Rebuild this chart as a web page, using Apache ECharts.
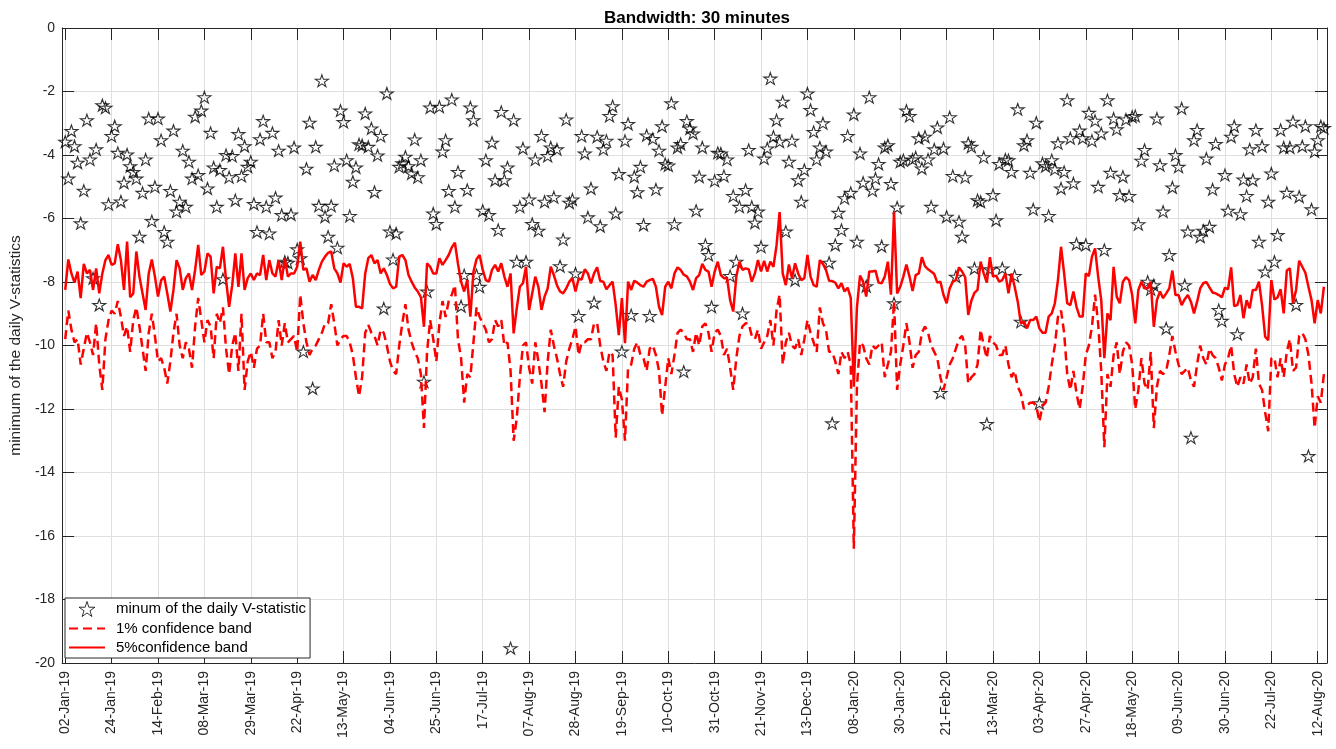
<!DOCTYPE html>
<html>
<head>
<meta charset="utf-8">
<script src="https://cdn.jsdelivr.net/npm/echarts@6/dist/echarts.min.js"></script>
<style>
  html, body { margin: 0; padding: 0; background: #fff; }
  #chart { width: 1336px; height: 749px; }
</style>
</head>
<body>
<div id="chart"></div>
<script>
// Trading-day tick labels (one every 15 observations)
const tickLabels = ['02-Jan-19','24-Jan-19','14-Feb-19','08-Mar-19','29-Mar-19','22-Apr-19','13-May-19',
  '04-Jun-19','25-Jun-19','17-Jul-19','07-Aug-19','28-Aug-19','19-Sep-19','10-Oct-19','31-Oct-19',
  '21-Nov-19','13-Dec-19','08-Jan-20','30-Jan-20','21-Feb-20','13-Mar-20','03-Apr-20','27-Apr-20',
  '18-May-20','09-Jun-20','30-Jun-20','22-Jul-20','12-Aug-20'];
const tickStep = 15;

// Daily minimum of the V-statistic
const vStatMin = [
  -3.58,-4.74,-3.24,-3.72,-4.24,-6.15,-5.12,-2.90,-4.14,-7.88,
  -3.82,-8.72,-2.43,-2.51,-5.55,-3.40,-3.09,-3.93,-5.46,-4.87,
  -3.98,-4.35,-4.53,-4.74,-6.57,-5.19,-4.14,-2.85,-6.08,-5.00,
  -2.85,-3.53,-6.42,-6.73,-5.13,-3.23,-5.78,-5.47,-3.86,-5.63,
  -4.21,-4.74,-2.79,-4.63,-2.60,-2.18,-5.05,-3.30,-4.39,-5.63,
  -4.47,-7.91,-4.00,-4.70,-4.03,-5.42,-3.34,-4.66,-3.72,-4.37,
  -4.21,-5.54,-6.42,-3.50,-2.93,-5.63,-6.47,-3.30,-5.34,-3.86,
  -5.89,-7.36,-7.39,-5.87,-3.76,-6.97,-7.25,-10.19,-4.43,-2.98,
  -11.35,-3.74,-5.60,-1.66,-5.94,-6.57,-5.60,-4.33,-6.92,-2.60,
  -2.96,-4.16,-5.92,-4.84,-4.39,-3.66,-3.69,-2.69,-3.74,-3.16,
  -5.16,-4.01,-3.40,-8.83,-2.06,-6.41,-7.29,-6.47,-4.37,-4.26,
  -4.05,-4.35,-4.58,-3.51,-4.70,-4.16,-11.14,-8.30,-2.50,-5.84,
  -6.17,-2.48,-3.89,-3.53,-5.13,-2.25,-5.63,-4.53,-8.76,-7.78,
  -5.10,-2.50,-2.90,-7.78,-8.15,-5.75,-4.16,-5.89,-3.61,-4.79,
  -6.36,-2.64,-4.79,-4.39,-19.53,-2.90,-7.36,-5.63,-3.79,-7.36,
  -5.40,-6.17,-4.14,-6.38,-3.40,-5.47,-4.03,-3.76,-5.33,-3.82,
  -7.50,-6.66,-2.88,-5.50,-5.40,-7.73,-9.07,-3.40,-3.95,-5.96,
  -5.05,-8.65,-3.42,-6.24,-3.82,-3.55,-2.77,-2.46,-5.84,-4.60,
  -10.19,-3.55,-3.02,-9.04,-4.68,-5.17,-4.37,-6.20,-3.38,-9.07,
  -3.49,-5.08,-3.86,-3.09,-4.28,-4.33,-2.37,-6.18,-3.76,-3.65,
  -10.82,-2.93,-3.16,-3.32,-5.75,-4.68,-3.76,-6.83,-7.15,-8.78,
  -4.81,-3.93,-3.95,-4.66,-4.14,-7.81,-5.29,-7.36,-5.63,-8.99,
  -5.10,-3.84,-5.63,-6.13,-5.78,-6.89,-4.11,-3.79,-1.59,-3.42,
  -2.90,-3.58,-2.32,-6.41,-4.21,-3.55,-7.94,-4.79,-5.47,-4.47,
  -2.06,-2.58,-3.27,-4.14,-3.76,-3.00,-3.89,-7.39,-12.45,-6.83,
  -5.82,-6.36,-5.36,-3.40,-5.19,-2.72,-6.73,-3.95,-4.87,-8.13,
  -2.18,-5.12,-4.74,-4.28,-6.87,-3.76,-3.69,-4.91,-8.67,-5.65,
  -4.21,-4.16,-2.60,-2.77,-4.14,-4.07,-3.47,-4.42,-3.42,-4.14,
  -5.63,-3.82,-3.13,-11.49,-3.79,-5.94,-2.81,-4.66,-7.83,-6.10,
  -6.57,-4.70,-3.63,-3.74,-7.57,-5.42,-5.47,-4.07,-12.47,-7.60,
  -5.26,-6.05,-4.28,-7.57,-4.14,-4.16,-4.53,-7.81,-2.56,-9.25,
  -3.69,-3.53,-4.56,-5.71,-2.98,-11.82,-4.26,-4.35,-5.92,-4.16,
  -4.45,-3.63,-5.05,-4.53,-2.27,-3.47,-4.89,-6.80,-3.23,-3.47,
  -6.83,-2.67,-3.55,-2.92,-5.00,-3.32,-6.99,-2.27,-4.56,-2.85,
  -3.19,-5.26,-4.68,-2.88,-5.29,-2.79,-2.77,-6.18,-4.18,-3.84,
  -7.99,-8.23,-8.10,-2.85,-4.32,-5.78,-9.46,-7.15,-5.02,-4.00,
  -4.37,-2.53,-8.10,-6.41,-12.90,-3.53,-3.21,-6.57,-6.38,-4.11,
  -6.26,-5.08,-3.65,-8.88,-9.22,-4.63,-5.75,-3.42,-3.09,-9.64,
  -5.86,-4.77,-5.29,-3.82,-4.79,-3.21,-6.73,-3.72,-7.67,-5.47,
  -4.58,-7.36,-6.52,-3.21,-3.76,-5.19,-3.76,-2.95,-8.72,-5.31,
  -3.72,-3.09,-13.48,-5.71,-3.89,-3.53,-3.09,-3.15
];

// 1% confidence band
const band1 = [
  -9.8,-8.9,-9.5,-9.9,-9.8,-10.6,-10.1,-9.6,-9.9,-10.3,
  -9.3,-10.6,-11.4,-9.8,-9.2,-8.9,-9.0,-8.6,-9.1,-9.7,
  -9.4,-10.2,-9.2,-8.8,-9.4,-10.1,-10.8,-9.6,-9.0,-9.7,
  -10.5,-10.4,-10.7,-11.2,-10.5,-9.6,-9.0,-10.0,-10.4,-9.9,
  -10.1,-10.7,-9.4,-8.5,-9.2,-9.9,-9.2,-9.4,-10.4,-9.0,
  -9.3,-8.8,-10.1,-10.9,-10.0,-9.6,-10.8,-9.0,-11.4,-10.5,
  -10.2,-10.7,-10.1,-10.0,-9.0,-9.9,-9.9,-10.4,-10.2,-9.2,
  -10.0,-9.3,-9.9,-9.8,-9.7,-10.2,-8.4,-9.3,-9.9,-10.3,
  -10.1,-10.0,-9.8,-9.6,-9.3,-9.3,-8.7,-9.3,-10.0,-9.8,
  -9.7,-9.7,-9.9,-10.3,-11.0,-11.6,-11.0,-9.6,-9.35,-9.6,
  -9.7,-10.0,-9.5,-9.6,-10.0,-10.5,-10.8,-10.9,-10.0,-9.3,
  -8.7,-9.5,-9.9,-10.2,-10.4,-10.9,-12.6,-10.2,-9.2,-9.8,
  -10.5,-9.3,-8.6,-9.1,-8.6,-8.4,-8.1,-9.8,-10.4,-11.8,
  -10.9,-11.0,-9.9,-8.8,-9.1,-9.3,-9.5,-9.9,-9.8,-9.2,
  -9.4,-9.2,-10.0,-9.9,-10.8,-13.0,-12.3,-11.0,-10.0,-9.9,
  -10.7,-11.2,-9.9,-10.5,-11.2,-12.1,-10.5,-9.5,-10.0,-10.4,
  -10.9,-11.3,-10.5,-10.1,-9.8,-9.4,-10.3,-9.9,-9.9,-9.8,
  -9.8,-9.3,-9.3,-10.0,-10.5,-10.8,-10.2,-10.3,-12.9,-11.3,
  -11.7,-13.0,-10.7,-10.6,-10.1,-9.9,-10.3,-10.4,-10.8,-10.1,
  -10.0,-10.3,-10.8,-12.2,-11.3,-10.4,-10.9,-10.3,-9.6,-9.5,
  -9.6,-9.8,-9.8,-10.2,-9.6,-10.0,-9.4,-9.3,-9.6,-10.2,
  -9.6,-9.5,-9.7,-10.3,-10.1,-10.7,-11.4,-10.4,-9.7,-9.4,
  -9.3,-9.3,-9.7,-9.8,-9.5,-10.1,-9.9,-9.7,-9.2,-10.0,
  -8.9,-8.4,-10.6,-9.9,-9.6,-10.0,-10.1,-9.8,-10.3,-9.8,
  -9.2,-9.6,-9.9,-10.2,-8.8,-9.3,-9.5,-10.2,-10.2,-10.5,
  -10.9,-10.2,-10.4,-10.2,-10.6,-16.4,-11.3,-9.9,-10.0,-10.4,
  -10.6,-10.0,-10.1,-10.0,-9.9,-11.0,-10.6,-10.2,-8.6,-11.4,
  -10.6,-10.0,-9.3,-9.9,-10.7,-10.3,-10.2,-9.6,-9.4,-9.6,
  -10.0,-10.2,-10.4,-11.0,-11.4,-11.0,-10.6,-10.4,-10.1,-9.8,
  -9.7,-10.0,-11.2,-11.0,-10.9,-10.6,-9.5,-10.0,-10.4,-9.7,
  -9.9,-10.0,-10.3,-10.3,-10.0,-10.6,-11.0,-10.8,-11.3,-11.5,
  -12.0,-11.9,-11.8,-11.8,-11.9,-12.4,-11.9,-11.8,-11.3,-10.6,
  -10.0,-9.1,-8.9,-9.6,-10.9,-11.4,-10.8,-11.5,-12.0,-11.3,
  -10.3,-10.0,-9.4,-8.4,-9.3,-10.8,-13.2,-10.9,-11.3,-10.3,
  -9.9,-10.9,-10.2,-9.9,-10.0,-10.6,-12.0,-11.4,-10.4,-11.2,
  -11.4,-10.2,-12.6,-11.3,-10.8,-10.9,-10.8,-10.3,-9.7,-10.2,
  -10.6,-10.9,-10.8,-10.7,-11.1,-11.3,-10.6,-10.0,-10.4,-10.6,
  -10.1,-10.3,-10.4,-10.7,-11.1,-10.6,-10.4,-10.0,-10.9,-11.3,
  -11.0,-11.2,-10.6,-11.2,-11.0,-10.1,-11.2,-11.4,-12.1,-12.7,
  -10.4,-10.4,-11.0,-10.4,-11.0,-10.2,-9.8,-10.8,-10.7,-9.7,
  -9.6,-9.8,-10.3,-11.2,-12.6,-11.6,-11.8,-10.9
];

// 5% confidence band
const band5 = [
  -8.25,-7.29,-7.73,-8.02,-7.67,-8.51,-7.43,-7.73,-7.62,-8.25,
  -7.57,-8.36,-7.73,-7.31,-7.15,-7.46,-7.41,-6.81,-7.31,-8.25,
  -6.73,-8.48,-8.36,-7.04,-7.83,-8.36,-8.88,-7.73,-7.29,-7.83,
  -8.46,-7.95,-7.83,-8.36,-8.93,-8.25,-7.31,-7.57,-8.25,-7.88,
  -7.73,-8.25,-7.62,-6.83,-7.78,-7.67,-7.10,-7.20,-8.36,-7.52,
  -7.57,-6.89,-7.94,-8.78,-8.10,-7.10,-8.15,-7.10,-8.25,-7.88,
  -7.73,-7.94,-7.73,-7.78,-7.15,-7.94,-7.31,-7.73,-7.83,-7.31,
  -7.94,-7.25,-7.83,-7.73,-7.73,-7.52,-6.73,-7.62,-7.57,-7.99,
  -7.78,-7.94,-7.62,-7.36,-7.20,-7.08,-7.04,-7.57,-7.73,-8.02,
  -7.41,-7.52,-7.43,-7.88,-8.78,-8.78,-8.83,-7.73,-7.25,-7.15,
  -7.41,-7.31,-7.73,-7.57,-7.78,-8.06,-8.20,-8.15,-7.20,-7.15,
  -7.31,-7.78,-7.99,-8.17,-8.30,-8.48,-9.41,-7.41,-7.52,-7.73,
  -7.73,-7.25,-7.46,-7.31,-7.15,-6.91,-6.76,-7.43,-7.99,-8.30,
  -7.94,-9.09,-7.68,-7.28,-7.15,-7.62,-7.94,-7.99,-7.62,-7.46,
  -7.67,-7.41,-7.83,-8.15,-7.73,-9.62,-8.83,-8.15,-8.04,-7.52,
  -8.88,-8.36,-7.83,-8.15,-8.88,-8.46,-8.20,-7.52,-7.78,-8.10,
  -8.30,-8.36,-8.20,-7.99,-7.88,-8.30,-7.90,-7.92,-7.60,-7.73,
  -8.04,-7.73,-7.54,-7.97,-7.99,-8.23,-8.10,-7.99,-8.73,-9.67,
  -8.51,-9.93,-7.99,-8.25,-7.96,-8.02,-8.10,-8.15,-7.99,-7.94,
  -7.90,-8.15,-8.78,-9.04,-8.15,-7.99,-8.20,-7.73,-7.54,-7.62,
  -7.77,-7.82,-7.99,-8.25,-7.88,-7.78,-7.43,-7.62,-7.67,-8.15,
  -7.67,-7.36,-7.78,-7.88,-7.88,-8.57,-8.93,-7.83,-7.36,-7.62,
  -7.57,-7.60,-7.99,-7.73,-7.31,-7.67,-7.33,-7.67,-7.36,-7.52,
  -6.85,-5.80,-7.73,-8.10,-7.45,-7.88,-7.41,-7.73,-7.94,-7.88,
  -7.15,-7.83,-8.10,-8.15,-7.31,-7.43,-7.62,-7.96,-7.97,-8.02,
  -8.20,-8.04,-8.30,-8.18,-8.50,-11.30,-8.80,-7.80,-7.99,-8.46,
  -7.67,-7.67,-7.64,-8.02,-8.04,-7.83,-7.36,-8.40,-5.79,-8.36,
  -8.15,-7.83,-7.45,-7.83,-8.28,-7.78,-7.73,-7.22,-7.50,-7.60,
  -7.67,-7.75,-8.02,-7.99,-8.41,-8.67,-8.20,-7.99,-7.94,-7.54,
  -7.67,-7.85,-9.04,-8.59,-8.34,-8.25,-7.36,-7.73,-8.02,-7.22,
  -7.83,-7.80,-7.99,-7.94,-7.73,-8.36,-7.73,-8.15,-8.62,-9.30,
  -9.25,-9.46,-9.20,-9.20,-9.09,-9.46,-9.60,-9.60,-9.09,-8.99,
  -8.67,-7.94,-6.89,-7.73,-8.67,-8.73,-8.30,-8.78,-9.09,-9.09,
  -7.73,-7.81,-7.20,-6.94,-7.83,-8.57,-10.40,-8.99,-9.20,-7.52,
  -8.46,-8.67,-7.99,-7.85,-7.94,-8.41,-9.30,-8.25,-7.99,-8.20,
  -8.20,-7.99,-9.41,-8.57,-8.30,-8.51,-8.36,-8.20,-7.64,-8.41,
  -8.41,-8.73,-8.54,-8.41,-8.62,-8.99,-8.62,-8.20,-8.04,-8.00,
  -8.17,-8.33,-8.36,-8.41,-8.48,-8.18,-8.23,-7.54,-8.76,-8.73,
  -8.41,-9.14,-8.57,-8.83,-8.25,-8.25,-7.99,-8.73,-9.72,-9.83,
  -7.94,-8.55,-8.49,-8.23,-8.99,-7.64,-7.57,-8.67,-8.25,-7.33,
  -7.52,-7.71,-8.15,-8.57,-9.30,-8.57,-8.99,-8.15
];

const nObs = band5.length;
const tickValues = tickLabels.map((_, k) => k * tickStep);
const yTicks = { min: -20, max: 0, interval: 2 };

// Five-pointed star marker outline
function pentagramPath() {
  const pts = [];
  for (let k = 0; k < 10; k++) {
    const r = k % 2 ? 0.382 : 1;
    const a = -Math.PI / 2 + k * Math.PI / 5;
    pts.push((r * Math.cos(a)).toFixed(4) + ',' + (r * Math.sin(a)).toFixed(4));
  }
  return 'path://M' + pts.join('L') + 'Z';
}
const STAR = pentagramPath();

const FONT = '"Liberation Sans", Arial, Helvetica, sans-serif';
const AX = '#262626';
const GRID = '#dfdfdf';

const chart = echarts.init(document.getElementById('chart'), null, { renderer: 'canvas' });

const xBase = {
  type: 'value', min: -1, max: nObs,
  axisLine: { show: true, onZero: false, lineStyle: { color: AX, width: 1 } },
  axisTick: { show: true, inside: true, length: 12, customValues: tickValues, lineStyle: { color: AX } }
};
const yBase = {
  type: 'value', min: yTicks.min, max: yTicks.max, interval: yTicks.interval,
  axisLine: { show: true, onZero: false, lineStyle: { color: AX, width: 1 } },
  axisTick: { show: true, inside: true, length: 12, lineStyle: { color: AX } }
};

const names = ['minum of the daily V-statistic', '1% confidence band', '5%confidence band'];

chart.setOption({
  animation: false,
  backgroundColor: '#ffffff',
  textStyle: { fontFamily: FONT },
  title: {
    text: 'Bandwidth: 30 minutes',
    left: 692, top: 5, textAlign: 'center',
    textStyle: { fontFamily: FONT, fontSize: 17, fontWeight: 'bold', color: '#000' }
  },
  grid: { left: 57, top: 28, width: 1270, height: 635, containLabel: false },
  xAxis: [
    Object.assign({}, xBase, {
      position: 'bottom',
      axisLabel: {
        show: true, rotate: 90, margin: 8, color: AX, fontSize: 14, fontFamily: FONT,
        customValues: tickValues,
        formatter: v => tickLabels[Math.round(v / tickStep)] || ''
      },
      splitLine: { show: true, lineStyle: { color: GRID, width: 1 } }
    }),
    Object.assign({}, xBase, {
      position: 'top',
      axisLabel: { show: false },
      splitLine: { show: false }
    })
  ],
  yAxis: [
    Object.assign({}, yBase, {
      position: 'left',
      name: 'minimum of the daily V-statistics',
      nameLocation: 'middle', nameGap: 35, nameRotate: 90,
      nameTextStyle: { fontFamily: FONT, fontSize: 15.5, color: AX },
      axisLabel: { show: true, margin: 7, color: AX, fontSize: 14, fontFamily: FONT },
      splitLine: { show: true, lineStyle: { color: GRID, width: 1 } }
    }),
    Object.assign({}, yBase, {
      position: 'right',
      axisLabel: { show: false },
      splitLine: { show: false }
    })
  ],
  legend: {
    orient: 'vertical',
    left: 65, top: 598,
    padding: [3, 4, 3, 3],
    itemGap: 4,
    itemWidth: 36, itemHeight: 15,
    backgroundColor: '#ffffff',
    borderColor: AX, borderWidth: 1, borderRadius: 0,
    textStyle: { fontFamily: FONT, fontSize: 15, color: '#000', padding: [0, 0, 0, 6] },
    data: [
      { name: names[0], icon: STAR, itemStyle: { color: 'rgba(255,255,255,0)', borderColor: '#000', borderWidth: 1 } },
      { name: names[1], itemStyle: { opacity: 0 } },
      { name: names[2], itemStyle: { opacity: 0 } }
    ]
  },
  series: [
    {
      name: names[0],
      type: 'scatter',
      xAxisIndex: 0, yAxisIndex: 0,
      symbol: STAR,
      symbolSize: [13, 12.4],
      symbolKeepAspect: true,
      itemStyle: { color: 'rgba(255,255,255,0)', borderColor: '#000', borderWidth: 1.1 },
      data: vStatMin.map((v, i) => [i, v]),
      z: 2
    },
    {
      name: names[1],
      type: 'line',
      xAxisIndex: 0, yAxisIndex: 0,
      symbol: 'none',
      lineStyle: { color: '#ff0000', width: 2.5, type: [9, 5] },
      itemStyle: { color: '#ff0000' },
      data: band1.map((v, i) => [i, v]),
      z: 3
    },
    {
      name: names[2],
      type: 'line',
      xAxisIndex: 0, yAxisIndex: 0,
      symbol: 'none',
      lineStyle: { color: '#ff0000', width: 2.5, type: 'solid' },
      itemStyle: { color: '#ff0000' },
      data: band5.map((v, i) => [i, v]),
      z: 4
    }
  ]
});
</script>
</body>
</html>
